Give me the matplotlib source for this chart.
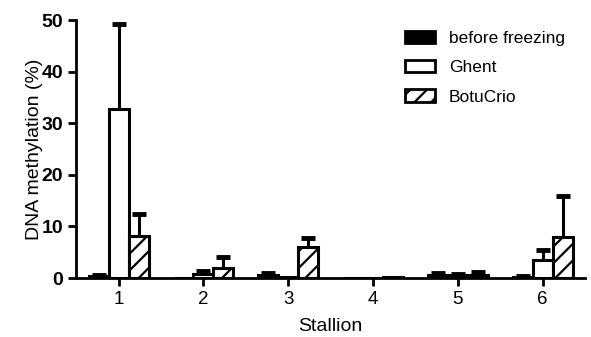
import numpy as np
import matplotlib.pyplot as plt
from matplotlib.patches import Patch

plt.rcParams['font.family'] = ['Liberation Sans', 'DejaVu Sans']
plt.rcParams['hatch.linewidth'] = 1.6

stallions = ['1', '2', '3', '4', '5', '6']
before_mean = [0.3, 0.1, 0.6, 0.1, 0.6, 0.2]
before_err = [0.2, 0.0, 0.3, 0.0, 0.4, 0.2]
ghent_mean = [32.8, 0.7, 0.2, 0.1, 0.5, 3.5]
ghent_err = [16.5, 0.6, 0.0, 0.0, 0.3, 2.0]
botu_mean = [8.2, 2.0, 6.0, 0.2, 0.6, 8.0]
botu_err = [4.3, 2.0, 1.8, 0.0, 0.6, 8.0]

x = np.arange(1, len(stallions) + 1)
w = 0.235

fig = plt.figure(figsize=(5.91, 3.37), dpi=100)
ax = fig.add_axes([0.129, 0.175, 0.861, 0.765])


def upper_errbars(xpos, mean, err):
    # only the upper half of the error bar, like Prism draws it
    mean = np.array(mean)
    err = np.array(err)
    keep = err > 0
    eb = ax.errorbar(xpos[keep], mean[keep], yerr=[np.zeros(keep.sum()), err[keep]],
                     fmt='none', ecolor='black', elinewidth=2.2, capsize=5,
                     capthick=3.5, zorder=1)
    eb[1][0].set_visible(False)


ax.bar(x - w, before_mean, w, color='black', edgecolor='black', linewidth=2.2, zorder=2)
ax.bar(x, ghent_mean, w, color='white', edgecolor='black', linewidth=2.2, zorder=2)
ax.bar(x + w, botu_mean, w, color='white', edgecolor='black', linewidth=2.2,
       hatch='//', zorder=2)
upper_errbars(x - w, before_mean, before_err)
upper_errbars(x, ghent_mean, ghent_err)
upper_errbars(x + w, botu_mean, botu_err)

ax.set_xlim(0.5, 6.5)
ax.set_ylim(0, 50)
ax.set_xticks(x)
ax.set_xticklabels(stallions, fontsize=13.5)
ax.set_yticks([0, 10, 20, 30, 40, 50])
ax.set_yticklabels(['0', '10', '20', '30', '40', '50'], fontsize=14, fontweight='bold')
ax.tick_params(axis='both', width=2, length=6, direction='out')
for s in ['top', 'right']:
    ax.spines[s].set_visible(False)
for s in ['left', 'bottom']:
    ax.spines[s].set_linewidth(2)

ax.set_xlabel('Stallion', fontsize=14, labelpad=7)
ax.set_ylabel('DNA methylation (%)', fontsize=14, labelpad=-1)

handles = [Patch(facecolor='black', edgecolor='black', linewidth=2, label='before freezing'),
           Patch(facecolor='white', edgecolor='black', linewidth=2, label='Ghent'),
           Patch(facecolor='white', edgecolor='black', linewidth=2, hatch='//', label='BotuCrio')]
ax.legend(handles=handles, loc='upper left', bbox_to_anchor=(0.625, 1.0), frameon=False,
          fontsize=12.5, handlelength=1.75, handleheight=0.7, handletextpad=0.8,
          labelspacing=0.82, borderaxespad=0.2)

fig.savefig('out.png', dpi=100)
